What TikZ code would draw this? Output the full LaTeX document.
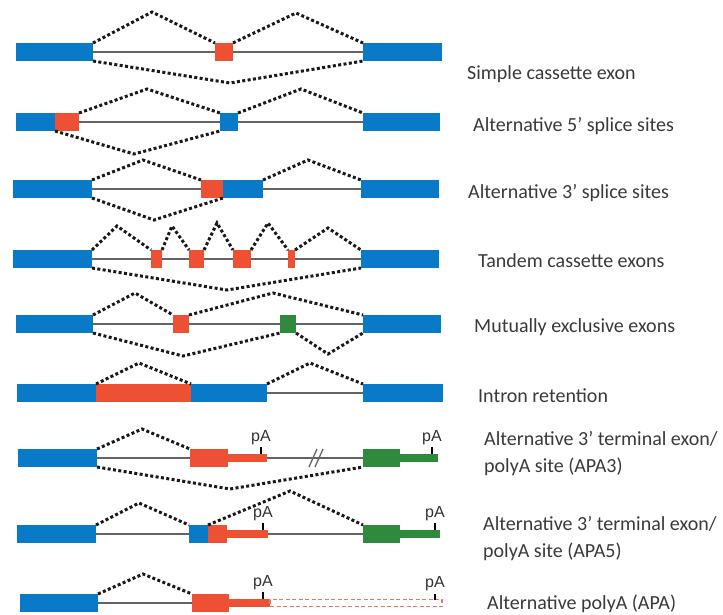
\documentclass[tikz,border=0pt]{standalone}
\usepackage{fontspec}
\newfontfamily\lblfamily{Carlito}
\newfontfamily\pafamily{Liberation Sans}
\definecolor{exblue}{RGB}{8,122,200}
\definecolor{exred}{RGB}{238,80,52}
\definecolor{exgreen}{RGB}{48,138,62}
\definecolor{introngrey}{RGB}{100,100,100}
\definecolor{lblgrey}{RGB}{58,58,58}
\tikzset{
  ex/.style={rectangle, inner sep=0pt, outer sep=0pt, minimum height=18pt, anchor=west},
  bx/.style={ex, fill=exblue},
  rx/.style={ex, fill=exred},
  gx/.style={ex, fill=exgreen},
  tailbar/.style={rectangle, inner sep=0pt, outer sep=0pt, minimum height=8pt, anchor=west},
  intron/.style={draw=introngrey, line width=1.6pt},
  splice/.style={draw=black!90, line width=3pt, dash pattern=on 3pt off 2.4pt},
  tickmark/.style={draw=black, line width=2.6pt},
  pa/.style={font=\pafamily\fontsize{16}{18}\selectfont, text=black!80, inner sep=0pt, anchor=base, yshift=6pt},
  lbl/.style={anchor=base west, inner sep=0pt, text=lblgrey, font=\lblfamily\fontsize{20}{24}\selectfont}
}
\begin{document}
\begin{tikzpicture}[x=1pt, y=-1pt]
\useasboundingbox[fill=white] (0,0) rectangle (723,614);

% ---- Simple cassette exon
\node[bx, minimum width=77] (a1) at (16,52) {};
\node[rx, minimum width=18] (a2) at (215,52) {};
\node[bx, minimum width=79] (a3) at (363,52) {};
\draw[intron] (a1.east) -- (a2.west);
\draw[intron] (a2.east) -- (a3.west);
\draw[splice] (a1.north east) -- (152,12) -- (a2.north west);
\draw[splice] (a2.north east) -- (296,13) -- (a3.north west);
\draw[splice] (a1.south east) -- (230,83) -- (a3.south west);
\node[lbl] (la) at (467,79) {Simple cassette exon};

% ---- Alternative 5' splice sites
\node[bx, minimum width=39] (b1) at (16,122) {};
\node[rx, minimum width=24] (b2) at (55,122) {};
\node[bx, minimum width=18] (b3) at (220,122) {};
\node[bx, minimum width=77] (b4) at (363,122) {};
\draw[intron] (b2.east) -- (b3.west);
\draw[intron] (b3.east) -- (b4.west);
\draw[splice] (b2.north east) -- (147,89) -- (b3.north west);
\draw[splice] (b3.north east) -- (301,89) -- (b4.north west);
\draw[splice] (b1.south east) -- (134,154) -- (b3.south west);
\node[lbl] (lb) at (473,131) {Alternative 5’ splice sites};

% ---- Alternative 3' splice sites
\node[bx, minimum width=79] (c1) at (13,189) {};
\node[rx, minimum width=22] (c2) at (201,189) {};
\node[bx, minimum width=40] (c3) at (223,189) {};
\node[bx, minimum width=78] (c4) at (361,189) {};
\draw[intron] (c1.east) -- (c2.west);
\draw[intron] (c3.east) -- (c4.west);
\draw[splice] (c1.north east) -- (143,160) -- (c2.north west);
\draw[splice] (c3.north east) -- (308,160) -- (c4.north west);
\draw[splice] (c1.south east) -- (154,220) -- (c3.south west);
\node[lbl] (lc) at (468,198) {Alternative 3’ splice sites};

% ---- Tandem cassette exons
\node[bx, minimum width=79] (d1) at (13,259) {};
\node[bx, minimum width=78] (d6) at (361,259) {};
\draw[intron] (d1.east) -- (d6.west);
\node[rx, minimum width=11] (d2) at (151,259) {};
\node[rx, minimum width=15] (d3) at (189,259) {};
\node[rx, minimum width=18] (d4) at (233,259) {};
\node[rx, minimum width=7] (d5) at (288,259) {};
\draw[splice] (d1.north east) -- (117,226) -- (d2.north west);
\draw[splice] (d2.north east) -- (172,226) -- (d3.north west);
\draw[splice] (d3.north east) -- (217,223) -- (d4.north west);
\draw[splice] (d4.north east) -- (268,223) -- (d5.north west);
\draw[splice] (d5.north east) -- (328,228) -- (d6.north west);
\draw[splice] (d1.south east) -- (227,290) -- (d6.south west);
\node[lbl] (ld) at (478,267) {Tandem cassette exons};

% ---- Mutually exclusive exons
\node[bx, minimum width=77] (e1) at (16,324) {};
\node[bx, minimum width=78] (e4) at (363,324) {};
\draw[intron] (e1.east) -- (e4.west);
\node[rx, minimum width=16] (e2) at (173,324) {};
\node[gx, minimum width=16] (e3) at (280,324) {};
\draw[splice] (e1.north east) -- (135,293) -- (e2.north west);
\draw[splice] (e2.north east) -- (273,293) -- (e4.north west);
\draw[splice] (e1.south east) -- (183,356) -- (e3.south west);
\draw[splice] (e3.south east) -- (328,354) -- (e4.south west);
\node[lbl] (le) at (474,332) {Mutually exclusive exons};

% ---- Intron retention
\node[bx, minimum width=79] (f1) at (17,393) {};
\node[rx, minimum width=95] (f2) at (96,393) {};
\node[bx, minimum width=76] (f3) at (191,393) {};
\node[bx, minimum width=80] (f4) at (363,393) {};
\draw[intron] (f3.east) -- (f4.west);
\draw[splice] (f1.north east) -- (139,363) -- (f3.north west);
\draw[splice] (f3.north east) -- (310,363) -- (f4.north west);
\node[lbl] (lf) at (478,402) {Intron retention};

% ---- Alternative 3' terminal exon (APA3)
\node[bx, minimum width=79] (g1) at (18,458) {};
\node[rx, minimum width=38] (g2) at (190,458) {};
\node[tailbar, fill=exred, minimum width=39] (g3) at (228,458) {};
\node[gx, minimum width=37] (g4) at (363,458) {};
\node[tailbar, fill=exgreen, minimum width=38] (g5) at (400,458) {};
\draw[intron] (g1.east) -- (g2.west);
\draw[intron] (g3.east) -- (g4.west);
\draw[introngrey, line width=1.3pt] (309,467) -- (317,449) (315,467) -- (323,449);
\draw[tickmark] ([xshift=-6pt]g3.north east) -- ++(0,-7) node[pa] (pg1) {pA};
\draw[tickmark] ([xshift=-6pt]g5.north east) -- ++(0,-7) node[pa] (pg2) {pA};
\draw[splice] (g1.north east) -- (142,429) -- (g2.north west);
\draw[splice] (g1.south east) -- (230,489) -- (g4.south west);
\node[lbl] (lg1) at (484,445) {Alternative 3’ terminal exon/};
\node[lbl] (lg2) at (484,472) {polyA site (APA3)};

% ---- Alternative 3' terminal exon (APA5)
\node[bx, minimum width=79] (h1) at (17,534) {};
\node[bx, minimum width=19] (h2) at (189,534) {};
\node[rx, minimum width=19] (h3) at (208,534) {};
\node[tailbar, fill=exred, minimum width=41] (h4) at (227,534) {};
\node[gx, minimum width=37] (h5) at (363,534) {};
\node[tailbar, fill=exgreen, minimum width=40] (h6) at (400,534) {};
\draw[intron] (h1.east) -- (h2.west);
\draw[intron] (h4.east) -- (h5.west);
\draw[tickmark] ([xshift=-5pt]h4.north east) -- ++(0,-7) node[pa] (ph1) {pA};
\draw[tickmark] ([xshift=-5pt]h6.north east) -- ++(0,-7) node[pa] (ph2) {pA};
\draw[splice] (h1.north east) -- (139,503) -- (h2.north west);
\draw[splice] (h3.north west) -- (290,491) -- (h5.north west);
\node[lbl] (lh1) at (483,530) {Alternative 3’ terminal exon/};
\node[lbl] (lh2) at (483,557) {polyA site (APA5)};

% ---- Alternative polyA (APA)
\node[bx, minimum width=78] (k1) at (20,603) {};
\node[rx, minimum width=37] (k2) at (192,603) {};
\node[tailbar, fill=exred, minimum width=41] (k3) at (229,603) {};
\node[tailbar, draw=exred!80, line width=1.3pt, dash pattern=on 4pt off 2.5pt, minimum width=172, minimum height=7pt] (k4) at (270,603) {};
\draw[intron] (k1.east) -- (k2.west);
\draw[tickmark] ([xshift=-7pt]k3.north east) -- ++(0,-7) node[pa] (pk1) {pA};
\draw[tickmark] ([xshift=-7pt]k4.north east) -- ++(0,-6) node[pa] (pk2) {pA};
\draw[splice] (k1.north east) -- (143,574) -- (k2.north west);
\node[lbl] (lk) at (487,609) {Alternative polyA (APA)};
\end{tikzpicture}
\end{document}
